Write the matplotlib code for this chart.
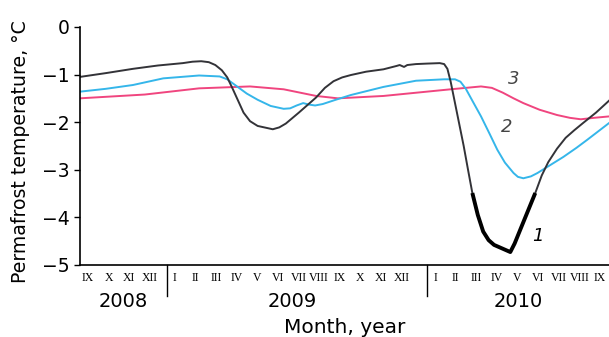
import numpy as np
import matplotlib.pyplot as plt
import matplotlib.transforms as mtransforms

# months counted from 1 Sep 2008
black_x = [0, 1.2, 2.45, 3.6, 4.75, 5.2, 5.6, 5.95, 6.25, 6.55, 6.8, 7.05, 7.3, 7.55, 7.85,
           8.2, 8.6, 8.9, 9.2, 9.5, 10.1, 10.9, 11.3, 11.7, 12.1, 12.5, 13.2, 14.0, 14.6,
           14.75, 14.95, 15.1, 15.5, 16.0, 16.6, 16.8, 16.95, 17.1, 17.3, 17.5, 17.7, 17.9,
           18.1, 18.35, 18.6, 18.85, 19.1, 19.5, 19.85, 20.05, 20.3, 20.65, 21.0, 21.3, 21.6,
           22.0, 22.4, 22.8, 23.2, 23.8, 24.4]
black_y = [-1.05, -0.97, -0.88, -0.81, -0.76, -0.73, -0.72, -0.74, -0.80, -0.91, -1.06,
           -1.30, -1.55, -1.80, -1.98, -2.08, -2.12, -2.15, -2.11, -2.03, -1.80, -1.48,
           -1.28, -1.14, -1.06, -1.01, -0.94, -0.89, -0.82, -0.80, -0.84, -0.80, -0.78,
           -0.77, -0.76, -0.78, -0.88, -1.15, -1.60, -2.05, -2.50, -3.00, -3.49, -3.95,
           -4.30, -4.48, -4.58, -4.66, -4.73, -4.55, -4.27, -3.88, -3.49, -3.12, -2.84,
           -2.56, -2.33, -2.17, -2.02, -1.80, -1.55]
thick_from, thick_to = 42, 52  # indices of the bold part of curve 1

blue_x = [0, 1.2, 2.45, 3.85, 5.5, 6.45, 6.8, 7.25, 7.7, 8.2, 8.8, 9.4, 9.7, 10.0, 10.3,
          10.55, 10.85, 11.2, 11.8, 12.5, 14.0, 15.5, 16.8, 17.3, 17.55, 17.8, 18.1, 18.5,
          18.9, 19.25, 19.6, 20.0, 20.2, 20.45, 20.8, 21.1, 21.7, 22.3, 22.9, 23.4, 24.4]
blue_y = [-1.36, -1.30, -1.22, -1.08, -1.02, -1.04, -1.10, -1.25, -1.40, -1.53, -1.66,
          -1.72, -1.71, -1.65, -1.60, -1.63, -1.65, -1.62, -1.53, -1.43, -1.26, -1.13,
          -1.10, -1.10, -1.15, -1.30, -1.55, -1.88, -2.25, -2.58, -2.85, -3.07, -3.15,
          -3.18, -3.14, -3.07, -2.90, -2.73, -2.54, -2.37, -2.02]

pink_x = [0, 3.0, 5.5, 7.85, 9.4, 10.9, 11.9, 14.0, 17.1, 18.5, 19.0, 19.5, 20.0, 20.45,
          21.2, 22.0, 22.6, 23.1, 23.7, 24.4]
pink_y = [-1.50, -1.42, -1.29, -1.25, -1.31, -1.45, -1.50, -1.45, -1.31, -1.25, -1.28,
          -1.38, -1.50, -1.60, -1.74, -1.85, -1.91, -1.94, -1.91, -1.88]

roman = ["I", "II", "III", "IV", "V", "VI", "VII", "VIII", "IX", "X", "XI", "XII"]
blocks = [("2008", 0, 8, 4), ("2009", 4, 0, 12), ("2010", 16, 0, 9)]  # year, start, first month idx, count
year_sep = [4, 16]
year_centers = [2.0, 9.8, 20.2]

fig = plt.figure(figsize=(6.09, 3.37), dpi=100)
ax = fig.add_axes([0.131, 0.214, 0.869, 0.706])

ax.plot(pink_x, pink_y, color="#f0457f", lw=1.4)
ax.plot(blue_x, blue_y, color="#35b6ea", lw=1.4)
ax.plot(black_x, black_y, color="#333338", lw=1.4)
ax.plot(black_x[thick_from:thick_to + 1], black_y[thick_from:thick_to + 1],
        color="black", lw=2.8, solid_capstyle="butt")

ax.text(20.85, -4.5, "1", fontsize=13, style="italic", color="black")
ax.text(19.4, -2.2, "2", fontsize=13, style="italic", color="#444444")
ax.text(19.75, -1.2, "3", fontsize=13, style="italic", color="#444444")

ax.set_xlim(0, 24.4)
ax.set_ylim(-5, 0)
ax.set_yticks([0, -1, -2, -3, -4, -5])
ax.set_yticklabels(["0", "\u22121", "\u22122", "\u22123", "\u22124", "\u22125"], fontsize=13.5)
ax.tick_params(axis="y", length=4, width=1, pad=3)
ax.spines["top"].set_visible(False)
ax.spines["right"].set_visible(False)
ax.spines["left"].set_linewidth(1.2)
ax.spines["bottom"].set_linewidth(1.2)

pos, labs = [], []
for year, start, first, n in blocks:
    for i in range(n):
        pos.append(start + 0.38 + i * 0.95)
        labs.append(roman[first + i])
ax.set_xticks(pos)
ax.set_xticklabels(labs, fontsize=8.5, family="Liberation Serif")
ax.tick_params(axis="x", length=0, pad=5)

trans = mtransforms.blended_transform_factory(ax.transData, ax.transAxes)
for s in year_sep:
    ax.plot([s, s], [0, -0.13], color="black", lw=1, transform=trans, clip_on=False)
for (year, start, first, n), xc in zip(blocks, year_centers):
    ax.text(xc, -0.155, year, transform=trans, ha="center", va="center", fontsize=14)
ax.text(0.5 * 24.4, -0.265, "Month, year", transform=trans, ha="center", va="center",
        fontsize=14.5)

fig.text(0.033, 0.55, "Permafrost temperature, \u00b0C", rotation=90, ha="center",
         va="center", fontsize=13.6)

fig.savefig("out.png", dpi=100)
